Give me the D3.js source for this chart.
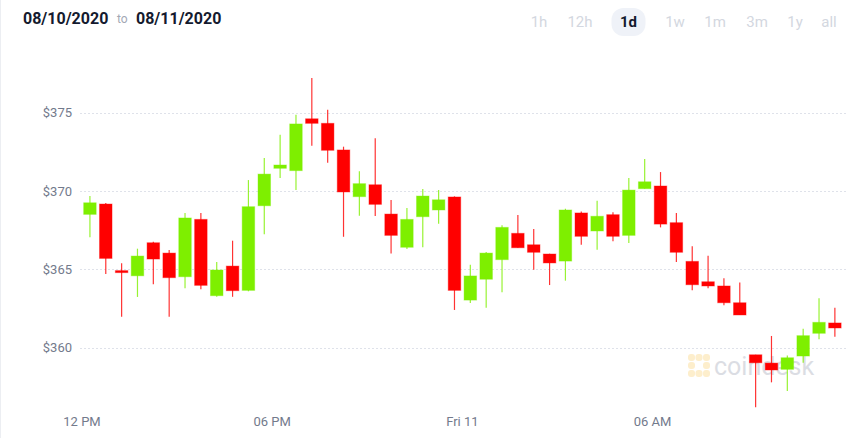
<!DOCTYPE html>
<html>
<head>
<meta charset="utf-8">
<script src="https://cdn.jsdelivr.net/npm/d3@7"></script>
<style>
  html, body { margin: 0; padding: 0; background: #fff; }
  #chart { width: 865px; height: 438px; }
</style>
</head>
<body>
<div id="chart"></div>
<script>
// 30 minute candles, 08/10/2020 12:00 -> 08/11/2020 12:00
const startTime = new Date(2020, 7, 10, 12, 0);
const opens  = [368.51, 369.17, 364.92, 364.59, 366.70, 366.04, 364.53, 368.19, 363.32, 365.21, 363.66, 369.06,
                371.45, 371.30, 374.61, 374.32, 372.62, 369.64, 370.40, 368.53, 366.41, 368.36, 368.79, 369.62,
                363.04, 364.37, 365.62, 367.30, 366.57, 365.98, 365.53, 368.60, 367.45, 368.49, 367.17, 370.15,
                370.32, 367.98, 365.51, 364.21, 363.94, 362.87, 359.55, 359.02, 358.62, 359.47, 360.92, 361.58];
const highs  = [369.68, 369.23, 365.39, 366.32, 366.76, 366.23, 368.60, 368.60, 365.47, 366.83, 370.70, 372.11,
                373.59, 374.87, 377.21, 375.19, 372.83, 371.26, 373.36, 369.43, 368.92, 370.13, 370.06, 369.66,
                365.30, 366.11, 367.81, 368.47, 367.57, 366.00, 368.87, 368.70, 369.38, 368.64, 370.83, 372.04,
                371.21, 368.60, 366.47, 365.87, 364.43, 364.17, 359.55, 360.75, 359.51, 361.21, 363.15, 362.55];
const lows   = [367.05, 364.70, 361.98, 363.24, 364.05, 361.98, 363.79, 363.73, 363.25, 363.25, 363.60, 367.24,
                370.83, 370.06, 372.89, 371.81, 367.08, 368.42, 368.40, 366.02, 366.30, 366.41, 367.91, 362.41,
                362.85, 362.55, 363.54, 366.38, 364.98, 364.00, 364.28, 366.57, 366.25, 366.79, 366.68, 370.15,
                367.68, 365.47, 363.66, 363.79, 362.71, 362.09, 356.20, 357.79, 357.24, 359.04, 360.54, 360.70];
const closes = [369.25, 365.70, 364.85, 365.85, 365.66, 364.47, 368.28, 363.98, 364.96, 363.64, 369.00, 371.08,
                371.66, 374.28, 374.32, 372.60, 369.94, 370.47, 369.15, 367.17, 368.19, 369.68, 369.44, 363.66,
                364.58, 366.04, 367.68, 366.38, 366.09, 365.41, 368.79, 367.11, 368.39, 367.11, 370.06, 370.59,
                367.89, 366.09, 364.02, 363.94, 362.87, 362.09, 359.04, 358.58, 359.36, 360.77, 361.62, 361.26];

const xTickLabels = ["12 PM", "06 PM", "Fri 11", "06 AM"];
const rangeButtons = ["1h", "12h", "1d", "1w", "1m", "3m", "1y", "all"];
const activeRange = "1d";
const fromLabel = "08/10/2020";
const toLabel = "08/11/2020";

const width = 865, height = 438;
const UP = "#7eef00", DOWN = "#ff0000";

const candles = opens.map((o, i) => ({
  time: d3.timeMinute.offset(startTime, 30 * i + 15),
  open: o, high: highs[i], low: lows[i], close: closes[i]
}));

const svg = d3.select("#chart").append("svg")
  .attr("width", width).attr("height", height)
  .style("font-family", "Roboto, 'Liberation Sans', sans-serif");

// faint left border
svg.append("line").attr("x1", 0.5).attr("x2", 0.5).attr("y1", 0).attr("y2", height)
  .attr("stroke", "#eceef2");

// Scales
const x = d3.scaleTime()
  .domain([startTime, d3.timeHour.offset(startTime, 24)])
  .range([82, 82 + 48 * 15.85]);
const y = d3.scaleLinear()
  .domain([356, 377.5])
  .range([410.4, 73.5]);

// Header
const hdr = svg.append("g").style("font-size", "16px").style("font-weight", "700").attr("fill", "#141a2e");
hdr.append("text").attr("x", 23).attr("y", 24).text(fromLabel);
hdr.append("text").attr("x", 117).attr("y", 23).text("to")
  .style("font-size", "12px").style("font-weight", "400").attr("fill", "#a3a8b5");
hdr.append("text").attr("x", 136).attr("y", 24).text(toLabel);

const btnX = [539, 580, 628.5, 675, 715, 757, 795, 829];
const btns = svg.append("g").selectAll("g").data(rangeButtons).join("g")
  .attr("transform", (d, i) => `translate(${btnX[i]},22)`);
btns.filter(d => d === activeRange).append("rect")
  .attr("x", -17).attr("y", -14).attr("width", 34).attr("height", 28).attr("rx", 12)
  .attr("fill", "#eff2f8");
btns.append("text").text(d => d)
  .attr("text-anchor", "middle").attr("dy", "0.36em")
  .style("font-size", "15px")
  .style("font-weight", d => d === activeRange ? 700 : 400)
  .attr("fill", d => d === activeRange ? "#141a2e" : "#d3d7e0");

// Grid + y labels
const yTicks = y.ticks(5);
svg.append("g").selectAll("line").data(yTicks).join("line")
  .attr("x1", 80).attr("x2", 848)
  .attr("y1", d => Math.round(y(d)) + 0.5).attr("y2", d => Math.round(y(d)) + 0.5)
  .attr("stroke", "#dfe2ea").attr("stroke-dasharray", "2,2");
svg.append("g").selectAll("text").data(yTicks).join("text")
  .attr("x", 72).attr("y", d => y(d)).attr("dy", "0.35em")
  .attr("text-anchor", "end").style("font-size", "13px").attr("fill", "#737a8c")
  .text(d => "$" + d);

// x labels
const xTicks = x.ticks(d3.timeHour.every(6)).filter(d => +d < +x.domain()[1]);
svg.append("g").selectAll("text").data(xTicks).join("text")
  .attr("x", d => x(d)).attr("y", 421).attr("dy", "0.35em")
  .attr("text-anchor", "middle").style("font-size", "13px").attr("fill", "#737a8c")
  .text((d, i) => xTickLabels[i]);

// watermark
const wm = svg.append("g").attr("opacity", 0.5);
const dots = [[0,0],[1,0],[2,0],[0,1],[0,2],[1,2],[2,2],[2,1]];
wm.selectAll("rect").data(dots).join("rect")
  .attr("x", d => 688 + d[0] * 7.5).attr("y", d => 354 + d[1] * 8)
  .attr("width", 7).attr("height", 7).attr("rx", 3)
  .attr("fill", "#fddf9a");
wm.append("text").attr("x", 714).attr("y", 375).text("coindesk")
  .style("font-size", "25px").attr("fill", "#b9bdc9");

// Candles
const bodyW = 12.5;
const g = svg.append("g");
const c = g.selectAll("g").data(candles).join("g");
const col = d => d.close >= d.open ? UP : DOWN;
c.append("line")
  .attr("x1", d => x(d.time)).attr("x2", d => x(d.time))
  .attr("y1", d => y(d.high)).attr("y2", d => y(d.low))
  .attr("stroke", col).attr("stroke-width", 1.2).attr("stroke-opacity", 0.8);
c.append("rect")
  .attr("x", d => x(d.time) - bodyW / 2)
  .attr("y", d => y(Math.max(d.open, d.close)))
  .attr("width", bodyW)
  .attr("height", d => Math.max(2, Math.abs(y(d.open) - y(d.close))))
  .attr("fill", col)
  .attr("stroke", col).attr("stroke-opacity", 0.4).attr("stroke-width", 1);
</script>
</body>
</html>
